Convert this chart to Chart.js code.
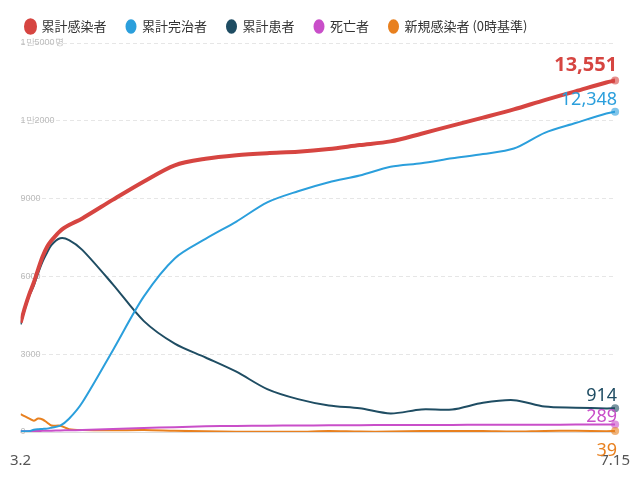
<!DOCTYPE html>
<html><head><meta charset="utf-8">
<script src="https://cdn.jsdelivr.net/npm/chart.js@4"></script>
<style>body{margin:0;background:#fff}#w{width:640px;height:480px}</style>
</head><body><div id="w"><canvas id="c"></canvas></div>
<script>
const days=[0,1,2,3,4,5,6,7,9,11,14,21,28,35,42,49,56,63,70,77,84,91,98,105,112,119,126,133,135];
const xLabels={0:'3.2',135:'7.15'};
const yLabels={0:'0',3000:'3000',6000:'6000',9000:'9000',12000:'1만2000',15000:'1만5000명'};
const confirmed=[4212,4812,5328,5766,6284,6767,7134,7382,7755,7979,8236,8961,9661,10284,10537,10674,10752,10804,10909,11065,11206,11503,11814,12121,12438,12800,13137,13479,13551];
const recovered=[30,30,34,88,108,118,130,166,247,510,1137,3166,5228,6694,7447,8114,8854,9283,9632,9888,10226,10363,10552,10718,10930,11537,11914,12282,12348];
const patients=[4150,4750,5255,5643,6134,6570,6908,7212,7470,7402,7024,5684,4275,3408,2873,2324,1654,1267,1021,914,714,869,867,1125,1228,981,938,908,914];
const deaths=[28,28,35,35,42,44,50,51,60,67,75,111,158,186,217,236,244,252,256,263,269,272,273,278,280,282,285,289,289];
const newCases=[686,600,516,438,518,483,367,248,242,110,74,64,78,47,25,13,10,8,35,15,16,35,38,37,17,42,48,33,39];
const names=['累計感染者','累計完治者','累計患者','死亡者','新規感染者 (0時基準)'];
const series=[confirmed,recovered,patients,deaths,newCases];
const colors=['#d64541','#2b9fdc','#1f4d63','#c94fc9','#e8801f'];
const widths=[4,2,2,2,2];
const endLabel={id:'endLabel',afterDatasetsDraw(ch){const c=ch.ctx;const offs=[-15,-12,-12,-8,20];const sizes=[20,18,18,18,18];
 ch.data.datasets.forEach((d,i)=>{const m=ch.getDatasetMeta(i);const p=m.data[m.data.length-1];
 c.save();c.fillStyle=colors[i];c.globalAlpha=0.6;c.beginPath();c.arc(p.x,p.y,4,0,7);c.fill();c.globalAlpha=1;
 c.font=(i==0?'bold ':'')+sizes[i]+'px "Noto Sans"';c.textAlign='right';c.textBaseline='middle';
 c.fillText(d.data[d.data.length-1].y.toLocaleString('en-US'),p.x+2,p.y+offs[i]);c.restore();});}};
new Chart(document.getElementById('c'),{type:'line',
data:{datasets:series.map((s,i)=>({label:names[i],data:s.map((v,j)=>({x:days[j],y:v})),borderColor:colors[i],backgroundColor:colors[i],borderWidth:widths[i],pointRadius:0,tension:0.3}))},
options:{responsive:true,maintainAspectRatio:false,animation:false,layout:{padding:{left:6,right:12,top:0,bottom:0}},
plugins:{legend:{position:'top',align:'start',labels:{usePointStyle:true,pointStyle:'circle',pointStyleWidth:9,boxHeight:9,padding:20,color:'#333',font:{size:13,family:'"Noto Sans CJK JP"'}}},tooltip:{enabled:false}},
scales:{x:{type:'linear',min:0,max:135,afterBuildTicks(a){a.ticks=[{value:0},{value:135}]},ticks:{callback:v=>xLabels[v],color:'#555',font:{size:15,family:'"Noto Sans"'},padding:10},grid:{display:false,drawTicks:true,tickLength:10,color:'#ccc'},border:{color:'#ddd'}},
y:{min:0,max:15000,afterBuildTicks(a){a.ticks=Object.keys(yLabels).map(v=>({value:+v}))},ticks:{mirror:true,callback:v=>yLabels[v],color:'#bbb',font:{size:9},padding:0},grid:{color:'#e6e6e6',drawTicks:false},border:{display:false,dash:[4,3]}}}},
plugins:[endLabel]});
</script></body></html>
